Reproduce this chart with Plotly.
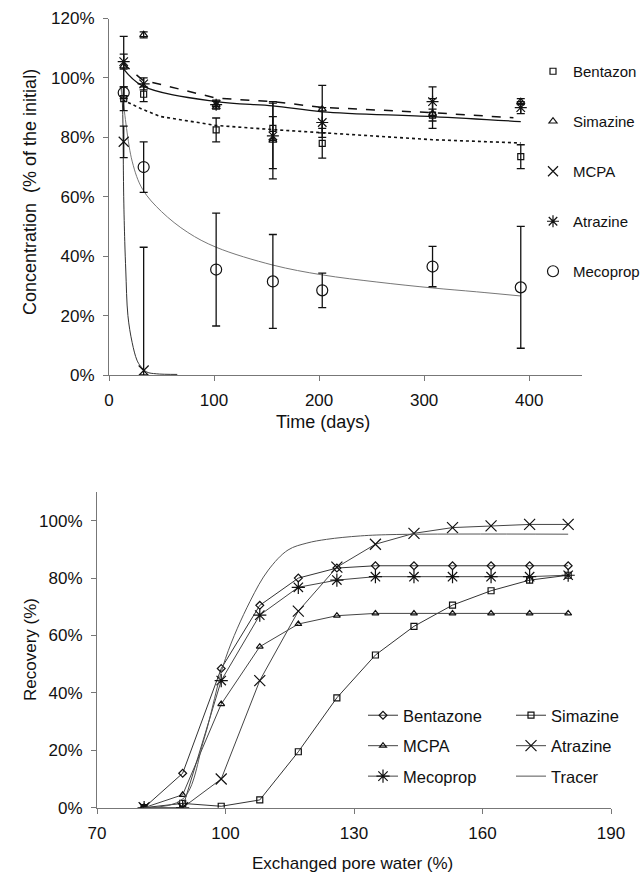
import plotly.graph_objects as go

# ---------------- Top chart data (Concentration vs time) ----------------
days = [14, 33, 102, 156, 203, 308, 392]

bentazon = [93, 94.5, 82.5, 83, 78, 87.5, 73.5]
bentazon_err = [4, 2.5, 4, 4, 5, 2, 4]
simazine = [104, 114.5, 91, 79, 89.5, 88, 92]
simazine_err = [10, 1, 1.2, 13, 8, 5, 1]
mcpa_days = [14, 33]
mcpa = [78.5, 1.5]
mcpa_err = [5.3, 41.5]
mcpa_err_minus = [5.3, 1.5]
atrazine = [105.5, 98, 91, 80.5, 85, 92, 90]
atrazine_err = [2.5, 2, 1.5, 11, 5, 5, 2]
mecoprop = [95, 70, 35.5, 31.5, 28.5, 36.5, 29.5]
mecoprop_err = [2, 8.5, 19, 15.8, 5.8, 6.8, 20.5]

# fitted curves
fit_days = [13, 32, 49, 102, 156, 203, 308, 392]
bentazon_fit = [92.6, 89.4, 87, 84, 82.6, 81.5, 79.2, 78.1]
dash_days = [13, 32, 102, 156, 203, 308, 385]
simazine_fit = [104.9, 99.3, 93.2, 92, 90.1, 88.3, 86.6]
solid_days = [13, 32, 102, 156, 203, 308, 392]
atrazine_fit = [103.4, 97.3, 92, 90.6, 88.6, 87, 85.3]
mcpa_fit_days = [12, 13, 14, 15, 16, 18, 22, 26.6, 30, 36, 45, 65]
mcpa_fit = [97, 89, 60, 45, 35, 20, 11, 5, 3, 1, 0.4, 0.2]
meco_fit_days = [11, 13, 22, 32, 50, 75, 102, 156, 203, 255, 308, 350, 392]
mecoprop_fit = [97, 93, 72, 62.5, 55, 48, 43, 37, 33.7, 31.3, 29.3, 28, 26.6]

top_xticks = [0, 100, 200, 300, 400]
top_yticks = [0, 20, 40, 60, 80, 100, 120]

# ---------------- Bottom chart data (Recovery vs exchanged pore water) ----------------
pore = [81, 90, 99, 108, 117, 126, 135, 144, 153, 162, 171, 180]
rec_bentazone = [0, 12, 48.5, 70.5, 80, 83.5, 84.3, 84.3, 84.3, 84.3, 84.3, 84.3]
rec_simazine = [0, 1.5, 0.5, 2.7, 19.5, 38.3, 53.2, 63.2, 70.6, 75.6, 79.3, 81]
rec_mcpa = [0, 4.5, 36.1, 56.1, 64, 66.9, 67.7, 67.7, 67.7, 67.7, 67.7, 67.7]
rec_atrazine = [0, 0, 10, 44.3, 68.5, 83.8, 91.8, 95.6, 97.6, 98.2, 98.7, 98.7]
rec_mecoprop = [0, 0, 44.3, 67.1, 76.8, 79.3, 80.5, 80.5, 80.5, 80.5, 80.5, 81]
tracer_x = [81, 90, 95, 100, 105.7, 110, 114.6, 119, 123.6, 131.5, 140, 180]
tracer_y = [0, 3, 24, 52, 71.8, 82.8, 89.8, 92.2, 93.5, 94.7, 95.2, 95.3]

bot_xticks = [70, 100, 130, 160, 190]
bot_yticks = [0, 20, 40, 60, 80, 100]

FONT = "Liberation Sans, Arial, sans-serif"
fig = go.Figure()

def eb(arr, minus=None):
    d = dict(type="data", array=arr, visible=True, color="#111", thickness=1.3, width=4)
    if minus is not None:
        d["symmetric"] = False
        d["arrayminus"] = minus
    return d

# fit lines (top)
fig.add_trace(go.Scatter(x=fit_days, y=bentazon_fit, mode="lines", line=dict(color="#111", width=1.6, dash="dot"),
                         showlegend=False, xaxis="x", yaxis="y"))
fig.add_trace(go.Scatter(x=dash_days, y=simazine_fit, mode="lines", line=dict(color="#111", width=1.5, dash="dash"),
                         showlegend=False, xaxis="x", yaxis="y"))
fig.add_trace(go.Scatter(x=solid_days, y=atrazine_fit, mode="lines", line=dict(color="#111", width=1.3, shape="spline"),
                         showlegend=False, xaxis="x", yaxis="y"))
fig.add_trace(go.Scatter(x=mcpa_fit_days, y=mcpa_fit, mode="lines", line=dict(color="#333", width=1, shape="spline"),
                         showlegend=False, xaxis="x", yaxis="y"))
fig.add_trace(go.Scatter(x=meco_fit_days, y=mecoprop_fit, mode="lines", line=dict(color="#777", width=1, shape="spline"),
                         showlegend=False, xaxis="x", yaxis="y"))

# points (top)
top_series = [
    ("Bentazon", days, bentazon, eb(bentazon_err), "square-open", 6),
    ("Simazine", days, simazine, eb(simazine_err), "triangle-up-open", 7),
    ("MCPA", mcpa_days, mcpa, eb(mcpa_err, mcpa_err_minus), "x-thin-open", 10),
    ("Atrazine", days, atrazine, eb(atrazine_err), "asterisk-open", 10),
    ("Mecoprop", days, mecoprop, eb(mecoprop_err), "circle-open", 11),
]
for name, xs, ys, err, sym, sz in top_series:
    fig.add_trace(go.Scatter(x=xs, y=ys, name=name, mode="markers", error_y=err,
                             marker=dict(symbol=sym, size=sz, color="#111", line=dict(color="#111", width=1.2)),
                             legend="legend", legendgroup="t" + name, xaxis="x", yaxis="y"))

# bottom series
bot_series = [
    ("Bentazone", pore, rec_bentazone, "diamond-open", 6, "#333", "legend2"),
    ("Simazine", pore, rec_simazine, "square-open", 6, "#333", "legend3"),
    ("MCPA", pore, rec_mcpa, "triangle-up-open", 6, "#444", "legend2"),
    ("Atrazine", pore, rec_atrazine, "x-thin-open", 11, "#444", "legend3"),
    ("Mecoprop", pore, rec_mecoprop, "asterisk-open", 11, "#444", "legend2"),
]
for name, xs, ys, sym, sz, col, lg in bot_series:
    fig.add_trace(go.Scatter(x=xs, y=ys, name=name, mode="lines+markers",
                             line=dict(color=col, width=1),
                             marker=dict(symbol=sym, size=sz, color="#111", line=dict(color="#111", width=1.2)),
                             legend=lg, legendgroup="b" + name, xaxis="x2", yaxis="y2"))
fig.add_trace(go.Scatter(x=tracer_x, y=tracer_y, name="Tracer", mode="lines",
                         line=dict(color="#555", width=1, shape="spline"),
                         legend="legend3", legendgroup="bTracer", xaxis="x2", yaxis="y2"))

W, H = 641, 875
axis_common = dict(showline=True, linecolor="#777", linewidth=1, ticks="outside", ticklen=5, tickcolor="#777",
                   showgrid=False, zeroline=False, automargin=False,
                   tickfont=dict(family=FONT, size=17, color="#111"))

def pct(vals):
    return [f"{v}%" for v in vals]

fig.update_layout(
    width=W, height=H, margin=dict(l=0, r=0, t=0, b=0, autoexpand=False),
    paper_bgcolor="white", plot_bgcolor="white",
    font=dict(family=FONT, size=16, color="#111"),
    xaxis=dict(domain=[109 / W, 581.7 / W], range=[0, 450], tickmode="array", tickvals=top_xticks,
               anchor="y", ticklabelstandoff=5, **axis_common),
    yaxis=dict(domain=[1 - 375 / H, 1 - 18.5 / H], range=[0, 120], tickmode="array", tickvals=top_yticks,
               ticktext=pct(top_yticks), anchor="x", ticklabelstandoff=5, **axis_common),
    xaxis2=dict(domain=[97 / W, 611 / W], range=[70, 190], tickmode="array", tickvals=bot_xticks,
                anchor="y2", ticklabelstandoff=5, **axis_common),
    yaxis2=dict(domain=[1 - 807.7 / H, 1 - 492 / H], range=[0, 110], tickmode="array", tickvals=bot_yticks,
                ticktext=pct(bot_yticks), anchor="x2", ticklabelstandoff=5, **axis_common),
    legend=dict(x=533 / W, y=1 - 55 / H, xanchor="left", yanchor="top", traceorder="grouped",
                tracegroupgap=27.5, font=dict(family=FONT, size=15, color="#111"), bgcolor="rgba(0,0,0,0)"),
    legend2=dict(x=363 / W, y=1 - 698 / H, xanchor="left", yanchor="top", traceorder="grouped",
                 tracegroupgap=6, font=dict(family=FONT, size=16.5, color="#111"), bgcolor="rgba(0,0,0,0)"),
    legend3=dict(x=511 / W, y=1 - 698 / H, xanchor="left", yanchor="top", traceorder="grouped",
                 tracegroupgap=6, font=dict(family=FONT, size=16.5, color="#111"), bgcolor="rgba(0,0,0,0)"),
    annotations=[
        dict(text="Time (days)", x=323 / W, y=1 - 422 / H, xref="paper", yref="paper", showarrow=False,
             xanchor="center", yanchor="middle", font=dict(family=FONT, size=18, color="#111")),
        dict(text="Concentration  (% of the initial)", x=30 / W, y=1 - 192 / H, xref="paper", yref="paper",
             showarrow=False, textangle=-90, xanchor="center", yanchor="middle",
             font=dict(family=FONT, size=18, color="#111")),
        dict(text="Recovery (%)", x=30 / W, y=1 - 650 / H, xref="paper", yref="paper", showarrow=False,
             textangle=-90, xanchor="center", yanchor="middle", font=dict(family=FONT, size=17, color="#111")),
        dict(text="Exchanged pore water (%)", x=352 / W, y=1 - 863 / H, xref="paper", yref="paper",
             showarrow=False, xanchor="center", yanchor="middle", font=dict(family=FONT, size=17, color="#111")),
    ],
)

fig.write_html("out.html", config={"displayModeBar": False},
               post_script="document.body.style.margin='0';document.body.style.padding='0';")
